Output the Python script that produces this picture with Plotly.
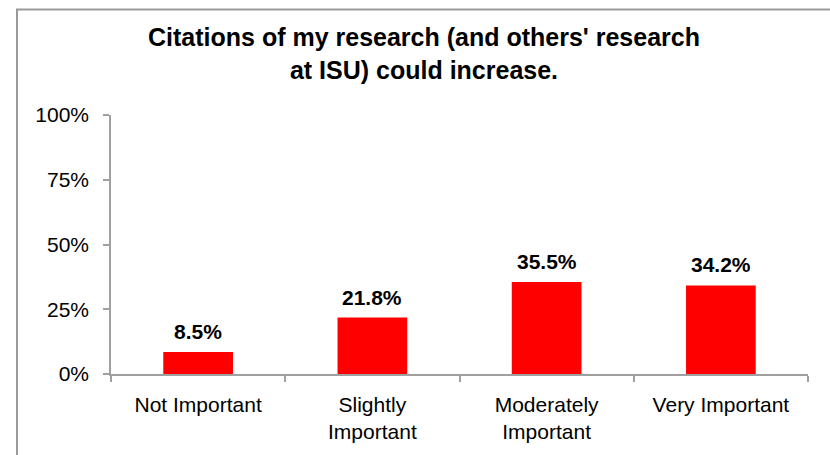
import plotly.graph_objects as go

categories = ["Not Important", "Slightly<br>Important", "Moderately<br>Important", "Very Important"]
values = [8.5, 21.8, 35.5, 34.2]
y_ticks = [0, 25, 50, 75, 100]
y_tick_labels = ["0%", "25%", "50%", "75%", "100%"]

W, H = 830, 455
L, R, T, B = 111, 22, 115, 75

fig = go.Figure()
fig.add_trace(go.Bar(
    x=categories, y=values,
    marker=dict(color="#ff0000", line=dict(width=0)),
    width=0.4,
    showlegend=False,
    hoverinfo="x+y",
))

# etiquetas de datos encima de las barras
for c, v in zip(categories, values):
    fig.add_annotation(
        x=c, y=v, text=f"{v:.1f}%", showarrow=False,
        yanchor="bottom", yshift=7,
        font=dict(family="Liberation Sans, Arial", size=21, color="black", weight="bold"),
    )

# marco gris alrededor del gráfico
pw, ph = W - L - R, H - T - B
fig.add_shape(
    type="rect", xref="paper", yref="paper", layer="below",
    x0=(17 - L) / pw, x1=(W + 20 - L) / pw,
    y0=(H - B - (H + 20)) / ph, y1=(H - B - 7) / ph,
    line=dict(color="#9a9a9a", width=2), fillcolor="rgba(0,0,0,0)",
)

fig.update_layout(
    width=W, height=H,
    margin=dict(l=L, r=R, t=T, b=B),
    paper_bgcolor="white", plot_bgcolor="white",
    font=dict(family="Liberation Sans, Arial", color="black"),
    title=dict(
        text="Citations of my research (and others' research<br>at ISU) could increase.",
        x=424 / W, xanchor="center", y=1 - 46 / H, yanchor="middle",
        font=dict(size=25, weight="bold", color="black"),
    ),
    bargap=0.6,
)

fig.update_xaxes(
    showline=True, linecolor="#a0a0a0", linewidth=1.5,
    ticks="outside", tickson="boundaries", ticklen=6, tickcolor="#a0a0a0", tickwidth=1.5,
    tickfont=dict(size=21), ticklabelstandoff=11,
    showgrid=False, fixedrange=True,
)
fig.update_yaxes(
    range=[0, 100], tickvals=y_ticks, ticktext=y_tick_labels,
    showline=True, linecolor="#a0a0a0", linewidth=1.5,
    ticks="outside", ticklen=6, tickcolor="#a0a0a0", tickwidth=1.5,
    tickfont=dict(size=21), ticklabelstandoff=10,
    showgrid=False, zeroline=False, fixedrange=True,
)

# quitar el margen por defecto del body para que la figura quede en (0,0)
fig.write_html("out.html", config={"displayModeBar": False},
               post_script="document.body.style.margin='0px';")
